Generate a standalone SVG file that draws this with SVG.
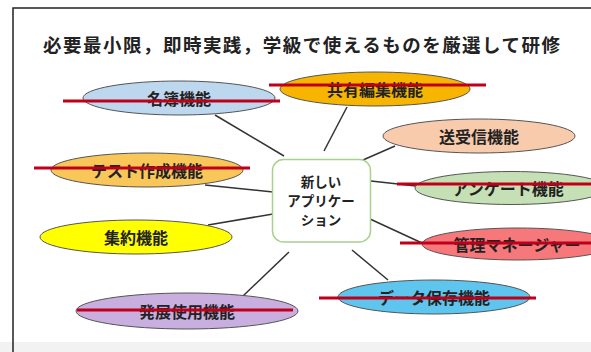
<svg xmlns="http://www.w3.org/2000/svg" width="591" height="352" viewBox="0 0 591 352">
<style>
.t{font-family:"Noto Sans CJK JP","Noto Sans CJK SC",sans-serif;font-weight:bold;fill:#222;}
.lbl{font-size:16px;text-anchor:middle;dominant-baseline:central;}
.ell{stroke:#555;stroke-width:1;}
.strike{stroke:#c0001a;stroke-width:3;}
.conn line{stroke:#333;stroke-width:1.5;}
</style>
<rect x="0" y="0" width="591" height="352" fill="#ffffff"/>
<rect x="0" y="342" width="591" height="10" fill="#f2f2f2"/>
<path d="M13,352 V8 H591" fill="none" stroke="#222" stroke-width="1.5"/>
<text class="t" x="43" y="52" font-size="18.5" textLength="517" lengthAdjust="spacing">必要最小限，即時実践，学級で使えるものを厳選して研修</text>

<g id="connectors" class="conn">
<line x1="215" y1="115" x2="284" y2="156"/>
<line x1="205" y1="185" x2="273" y2="192"/>
<line x1="208" y1="225" x2="273" y2="214"/>
<line x1="243" y1="296" x2="289" y2="252"/>
<line x1="347" y1="107" x2="324" y2="151"/>
<line x1="395" y1="146" x2="363" y2="160"/>
<line x1="371" y1="181" x2="416" y2="186"/>
<line x1="370" y1="219" x2="422" y2="243"/>
<line x1="352" y1="250" x2="388" y2="280"/>
</g>

<g id="center">
<rect x="272.5" y="159.5" width="98" height="82.5" rx="11" fill="#ffffff" stroke="#a9d18e" stroke-width="1.5"/>
<text class="t" font-size="13.5" text-anchor="middle"><tspan x="321" y="187">新しい</tspan><tspan x="321" y="206">アプリケー</tspan><tspan x="321" y="225">ション</tspan></text>
</g>

<g id="meibo">
<ellipse class="ell" cx="179" cy="98" rx="96" ry="17" fill="#bdd7ee"/>
<text class="t lbl" x="179" y="98">名簿機能</text>
<line class="strike" x1="63" y1="101" x2="280" y2="101"/>
</g>

<g id="test">
<ellipse class="ell" cx="147" cy="170" rx="96" ry="17" fill="#f9c65a"/>
<text class="t lbl" x="147" y="170">テスト作成機能</text>
<line class="strike" x1="34" y1="168" x2="250" y2="168"/>
</g>

<g id="kyoyu">
<ellipse class="ell" cx="375" cy="89" rx="95" ry="17" fill="#f7b500"/>
<text class="t lbl" x="375" y="89">共有編集機能</text>
<line class="strike" x1="269" y1="85" x2="486" y2="85"/>
</g>

<g id="soju">
<ellipse class="ell" cx="479" cy="136" rx="96" ry="17" fill="#f8cbad"/>
<text class="t lbl" x="479" y="136">送受信機能</text>
</g>

<g id="enquete">
<ellipse class="ell" cx="511" cy="188" rx="96" ry="16.5" fill="#c5e0b4"/>
<text class="t lbl" x="508" y="188">アンケート機能</text>
<line class="strike" x1="397" y1="184" x2="591" y2="184"/>
</g>

<g id="kanri">
<ellipse class="ell" cx="518" cy="244" rx="96" ry="16" fill="#f7787b"/>
<text class="t lbl" x="517" y="244">管理マネージャー</text>
<line class="strike" x1="400" y1="243" x2="591" y2="243"/>
</g>

<g id="data">
<ellipse class="ell" cx="434" cy="297" rx="96" ry="17" fill="#5ec5ef"/>
<text class="t lbl" x="434" y="297">データ保存機能</text>
<line class="strike" x1="319" y1="298" x2="536" y2="298"/>
</g>

<g id="shuyaku">
<ellipse class="ell" cx="136" cy="237" rx="96" ry="17" fill="#ffff00"/>
<text class="t lbl" x="136" y="237">集約機能</text>
</g>

<g id="hatten">
<ellipse class="ell" cx="187" cy="311" rx="111" ry="18" fill="#c9aee0"/>
<text class="t lbl" x="187" y="311">発展使用機能</text>
<line class="strike" x1="77" y1="310" x2="293" y2="310"/>
</g>
</svg>
